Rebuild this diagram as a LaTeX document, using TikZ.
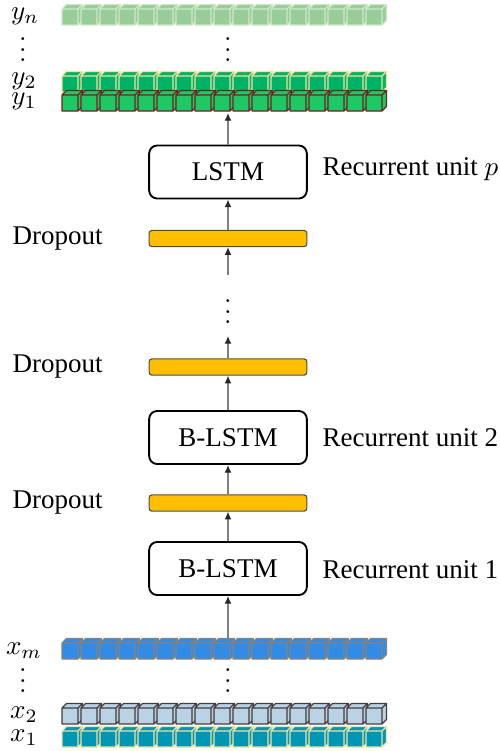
\documentclass[tikz,border=0pt]{standalone}
\usepackage{fontspec}
\setmainfont{Liberation Serif}
\usepackage{tikz}
\usetikzlibrary{arrows.meta}
\usepackage{xcolor}
\definecolor{ynf}{RGB}{153,204,153}
\definecolor{yne}{RGB}{205,232,200}
\definecolor{ytwof}{RGB}{0,178,100}
\definecolor{ytwoe}{RGB}{240,222,165}
\definecolor{yonef}{RGB}{30,200,100}
\definecolor{yonee}{RGB}{110,35,35}
\definecolor{xmf}{RGB}{50,140,230}
\definecolor{xme}{RGB}{135,130,125}
\definecolor{xtwof}{RGB}{185,210,230}
\definecolor{xtwoe}{RGB}{70,60,60}
\definecolor{xonef}{RGB}{0,150,180}
\definecolor{xonee}{RGB}{240,225,165}
\definecolor{dropc}{RGB}{255,191,0}
\tikzset{
  unit/.style={rounded corners=3pt,draw=black,line width=0.7pt,fill=white,minimum width=2.05cm,minimum height=0.69cm,inner sep=0pt},
  drop/.style={rounded corners=1pt,draw=black!70,line width=0.4pt,fill=dropc,minimum width=2.05cm,minimum height=0.21cm,inner sep=0pt},
  lab/.style={inner sep=0pt,anchor=west},
  sym/.style={inner sep=0.5pt},
  dot/.style={inner sep=0pt},
  flow/.style={-{Latex[length=1mm,width=0.9mm,color=black!85]},line width=0.5pt,black!50},
}
% three stacked dots named #1a, #1b, #1c, middle one at (#2,#3)
\newcommand{\tdots}[3]{%
  \node[dot] (#1a) at (#2,#3-10.5) {$.$};
  \node[dot] (#1b) at (#2,#3) {$.$};
  \node[dot] (#1c) at (#2,#3+10.5) {$.$};}
% one row of 17 small cubes, front face top at y=#1
\newcommand{\cuberow}[3]{%
  \foreach \i in {0,...,16}{
    \pgfmathsetmacro{\cx}{62+19*\i}
    \draw[fill=#2,draw=#3,line width=0.4pt,line join=round]
      (\cx,#1) rectangle ++(16,16)
      (\cx,#1) -- ++(4.5,-4.5) -- ++(16,0) -- ++(-4.5,4.5) -- cycle
      (\cx+16,#1) -- ++(4.5,-4.5) -- ++(0,16) -- ++(-4.5,4.5) -- cycle;
  }}
\begin{document}
\begin{tikzpicture}[x=0.013cm,y=-0.013cm]
  \useasboundingbox (0,0) rectangle (500,751);
  % output sequence
  \cuberow{9}{ynf}{yne}
  \cuberow{76}{ytwof}{ytwoe}
  \cuberow{95}{yonef}{yonee}
  \node[sym] (yn) at (25,16) {$y_n$};
  \tdots{ydl}{23}{50}
  \tdots{ydm}{228}{50}
  \node[sym] (ytwo) at (24,81) {$y_2$};
  \node[sym] (yone) at (24,101) {$y_1$};
  \coordinate (yout) at (228,113);
  % input sequence
  \cuberow{643}{xmf}{xme}
  \cuberow{708}{xtwof}{xtwoe}
  \cuberow{731}{xonef}{xonee}
  \node[sym] (xm) at (24,651) {$x_m$};
  \tdots{xdl}{23}{681}
  \tdots{xdm}{228}{681}
  \node[sym] (xtwo) at (24,715) {$x_2$};
  \node[sym] (xone) at (24,738) {$x_1$};
  \coordinate (xin) at (228,638);
  % recurrent stack
  \node[unit] (lstm) at (228,172) {LSTM};
  \node[drop] (dropa) at (228,238.5) {};
  \tdots{gap}{228}{312}
  \coordinate (gapa) at (228,275);
  \coordinate (gapb) at (228,336);
  \node[drop] (dropb) at (228,367) {};
  \node[unit] (blstmb) at (228,437.5) {B-LSTM};
  \node[drop] (dropcc) at (228,503) {};
  \node[unit] (blstma) at (228,568.5) {B-LSTM};
  \node[lab] (unitp) at (322,169) {Recurrent unit $p$};
  \node[lab] (unitb) at (322,438) {Recurrent unit 2};
  \node[lab] (unita) at (322,570) {Recurrent unit 1};
  \node[lab] (labda) at (12,238.5) {Dropout};
  \node[lab] (labdb) at (12,367) {Dropout};
  \node[lab] (labdc) at (12,503) {Dropout};
  \draw[flow] (lstm) -- (yout);
  \draw[flow] (dropa) -- (lstm);
  \draw[flow] (gapa) -- (dropa);
  \draw[flow] (dropb) -- (gapb);
  \draw[flow] (blstmb) -- (dropb);
  \draw[flow] (dropcc) -- (blstmb);
  \draw[flow] (blstma) -- (dropcc);
  \draw[flow] (xin) -- (blstma);
\end{tikzpicture}
\end{document}
